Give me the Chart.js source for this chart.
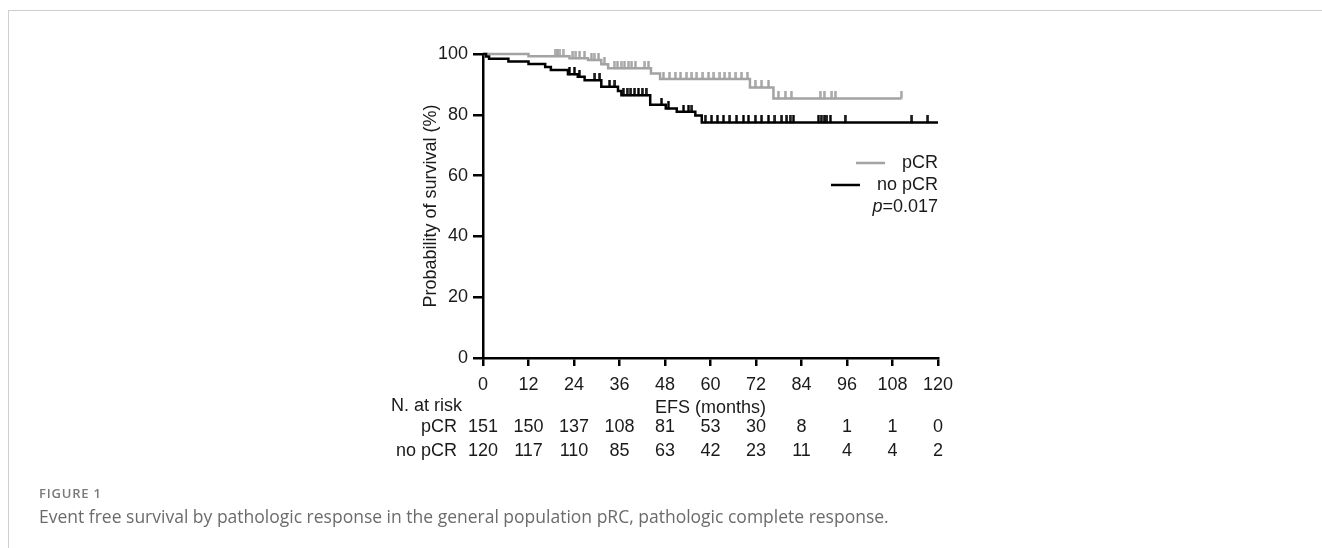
<!DOCTYPE html>
<html><head><meta charset="utf-8">
<script src="https://cdn.jsdelivr.net/npm/chart.js@4.4.1/dist/chart.umd.min.js"></script>
<style>
html,body{margin:0;padding:0;background:#fff;width:1322px;height:548px;overflow:hidden;}
#wrap{position:relative;width:1322px;height:548px;}
#frameTop{position:absolute;left:8px;top:10px;width:1314px;height:0;border-top:1.5px solid #cfcfcf;}
#frameLeft{position:absolute;left:8px;top:10px;width:0;height:538px;border-left:1.5px solid #cfcfcf;}
#c{position:absolute;left:0;top:0;}
#figlabel{position:absolute;left:39px;top:484px;font-family:'Open Sans',sans-serif;font-weight:600;font-size:13px;letter-spacing:0.8px;color:#7a7a7a;white-space:nowrap;}
#caption{position:absolute;left:39px;top:504px;font-family:'Open Sans',sans-serif;font-size:17.5px;color:#6b6b6b;white-space:nowrap;}
</style></head>
<body>
<div id="wrap">
<div id="frameTop"></div><div id="frameLeft"></div>
<canvas id="c" width="1322" height="548"></canvas>
<div id="figlabel">FIGURE 1</div>
<div id="caption">Event free survival by pathologic response in the general population pRC, pathologic complete response.</div>
</div>
<script>
// ---- data ----
const riskMonths = [0, 12, 24, 36, 48, 60, 72, 84, 96, 108, 120];
const pcrAtRisk = [151, 150, 137, 108, 81, 53, 30, 8, 1, 1, 0];
const noPcrAtRisk = [120, 117, 110, 85, 63, 42, 23, 11, 4, 4, 2];

const pcrEventTimes = [0, 12, 22.8, 27.7, 31.2, 33, 44.3, 46.7, 70.4, 76.6, 110.3];
const pcrSurvival   = [100, 99.3, 98.6, 98.0, 96.6, 95.3, 93.6, 91.8, 89.0, 85.4, 85.4];
const pcrCensored = [19.0, 19.6, 20.3, 21.1, 23.7, 24.5, 25.5, 26.8, 28.6, 29.3, 30.5, 32.0, 34.6, 35.5,
  36.4, 37.3, 38.3, 39.2, 40.2, 42.7, 43.6, 47.6, 49.2, 50.7, 52.1, 53.7, 55.1, 56.4, 58.0, 59.5, 60.9,
  62.5, 63.8, 65.1, 66.7, 68.2, 69.7, 71.8, 73.5, 75.3, 77.9, 79.7, 81.3, 88.9, 90.0, 92.0, 92.9, 110.3];

const noPcrEventTimes = [0, 0.8, 1.6, 6.7, 12, 16.4, 17.9, 22.4, 25.0, 26.8, 31.2, 35.6, 36.5, 44.1, 48.2, 51.1, 56.0, 57.7, 120];
const noPcrSurvival   = [100, 99.2, 98.4, 97.5, 96.7, 95.7, 94.7, 93.3, 92.5, 91.4, 89.2, 87.8, 86.4, 83.3, 82.1, 81.0, 79.8, 77.5, 77.5];
const noPcrCensored = [22.8, 24.1, 25.4, 29.5, 30.8, 33.4, 34.8, 37.0, 38.0, 39.0, 40.0, 41.0, 42.0, 43.0,
  47.1, 48.9, 52.9, 54.2, 55.1, 58.6, 60.3, 61.8, 63.4, 65.1, 66.9, 68.7, 70.0, 71.8, 73.5, 75.3, 77.0,
  78.8, 80.1, 81.0, 81.9, 88.5, 89.2, 90.0, 90.7, 91.6, 95.5, 113.1, 117.3];

const seriesLabels = ['pCR', 'no pCR'];
const pValueText = '=0.017';

// ---- helpers ----
const FONT = "'Liberation Sans', Arial, sans-serif";
const GREY = '#a3a3a3';
const BLACK = '#000000';
const TEXT = '#1a1a1a';

function stepPoints(t, s) { return t.map((v, i) => ({x: v, y: s[i]})); }
function survAt(t, times, surv) {
  let v = surv[0];
  for (let i = 0; i < times.length; i++) { if (times[i] <= t) v = surv[i]; }
  return v;
}
function censorPoints(c, times, surv) { return c.map(t => ({x: t, y: survAt(t, times, surv)})); }
function tickImg(color) {
  const cv = document.createElement('canvas');
  cv.width = 3; cv.height = 14;
  const g = cv.getContext('2d');
  g.strokeStyle = color; g.lineWidth = 2.4;
  g.beginPath(); g.moveTo(1.5, 0); g.lineTo(1.5, 7.5); g.stroke();
  return cv;
}

const riskTable = {
  id: 'riskTable',
  afterDraw(chart) {
    const {ctx, scales: {x}, chartArea} = chart;
    ctx.save();
    ctx.font = `18px ${FONT}`;
    ctx.fillStyle = TEXT;
    ctx.textBaseline = 'middle';
    ctx.textAlign = 'right';
    const lx = chartArea.left;
    ctx.fillText('N. at risk', lx - 21, 406);
    ctx.fillText(seriesLabels[0], lx - 26, 427);
    ctx.fillText(seriesLabels[1], lx - 26, 451);
    ctx.textAlign = 'center';
    riskMonths.forEach((m, i) => {
      const px = x.getPixelForValue(m);
      ctx.fillText(String(pcrAtRisk[i]), px, 427);
      ctx.fillText(String(noPcrAtRisk[i]), px, 451);
    });
    ctx.restore();
  }
};

const legendPlug = {
  id: 'legendPlug',
  afterDraw(chart) {
    const {ctx, chartArea} = chart;
    const r = chartArea.right;
    ctx.save();
    ctx.font = `18px ${FONT}`;
    ctx.fillStyle = TEXT;
    ctx.textBaseline = 'middle';
    ctx.textAlign = 'right';
    ctx.fillText(seriesLabels[0], r, 163);
    const w1 = ctx.measureText(seriesLabels[0]).width;
    ctx.fillText(seriesLabels[1], r, 185);
    const w2 = ctx.measureText(seriesLabels[1]).width;
    ctx.lineWidth = 2.5;
    ctx.strokeStyle = GREY;
    ctx.beginPath(); ctx.moveTo(r - w1 - 46, 163); ctx.lineTo(r - w1 - 17, 163); ctx.stroke();
    ctx.strokeStyle = BLACK;
    ctx.beginPath(); ctx.moveTo(r - w2 - 46, 185); ctx.lineTo(r - w2 - 17, 185); ctx.stroke();
    const wp = ctx.measureText(pValueText).width;
    ctx.fillText(pValueText, r, 207);
    ctx.font = `italic 18px ${FONT}`;
    ctx.fillText('p', r - wp, 207);
    ctx.restore();
  }
};

const axisFont = {family: FONT, size: 18};

new Chart(document.getElementById('c'), {
  type: 'line',
  data: {
    datasets: [
      {label: 'pCR', data: stepPoints(pcrEventTimes, pcrSurvival), borderColor: GREY, borderWidth: 2.5,
        stepped: 'before', pointRadius: 0, fill: false, clip: 8, order: 2},
      {label: 'no pCR', data: stepPoints(noPcrEventTimes, noPcrSurvival), borderColor: BLACK, borderWidth: 2.5,
        stepped: 'before', pointRadius: 0, fill: false, clip: 8, order: 1},
      {label: 'pCR censored', data: censorPoints(pcrCensored, pcrEventTimes, pcrSurvival), showLine: false,
        pointStyle: tickImg(GREY), pointRadius: 4, clip: 12, order: 2},
      {label: 'no pCR censored', data: censorPoints(noPcrCensored, noPcrEventTimes, noPcrSurvival), showLine: false,
        pointStyle: tickImg(BLACK), pointRadius: 4, clip: 12, order: 1}
    ]
  },
  options: {
    responsive: false,
    animation: false,
    events: [],
    layout: {padding: {left: 420, right: 384, top: 54, bottom: 129}},
    plugins: {legend: {display: false}, tooltip: {enabled: false}},
    scales: {
      x: {
        type: 'linear', min: 0, max: 120,
        ticks: {stepSize: 12, font: axisFont, color: TEXT, padding: 8, maxRotation: 0, autoSkip: false},
        grid: {display: true, drawOnChartArea: false, drawTicks: true, tickLength: 8, tickWidth: 2.5, tickColor: BLACK, lineWidth: 2.5, color: BLACK},
        border: {display: true, color: BLACK, width: 2.5},
        title: {display: true, text: 'EFS (months)', font: axisFont, color: TEXT, padding: {top: 0, bottom: 0}},
        afterFit(s) { s.height = 61; }
      },
      y: {
        min: 0, max: 100,
        ticks: {stepSize: 20, font: axisFont, color: TEXT, padding: 5},
        grid: {display: true, drawOnChartArea: false, drawTicks: true, tickLength: 10, tickWidth: 2.5, tickColor: BLACK, lineWidth: 2.5, color: BLACK},
        border: {display: true, color: BLACK, width: 2.5},
        title: {display: true, text: 'Probability of survival (%)', font: axisFont, color: TEXT, padding: {top: 0, bottom: 0}},
        afterFit(s) { s.width = 63; }
      }
    }
  },
  plugins: [riskTable, legendPlug]
});
</script>
</body></html>
